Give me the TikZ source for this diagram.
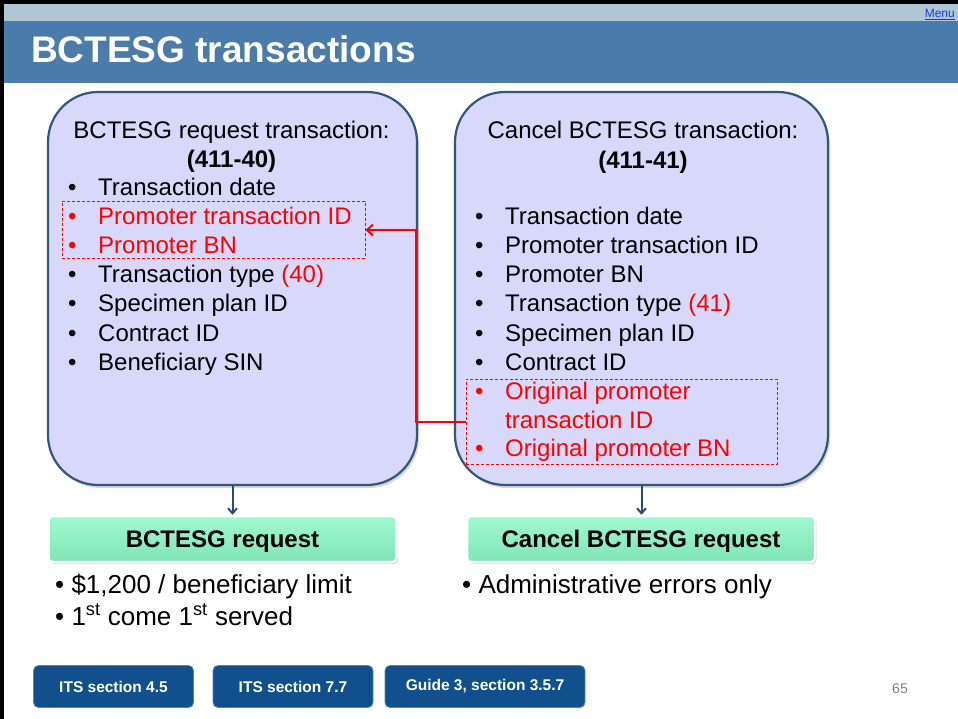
\documentclass[tikz,border=0pt]{standalone}
\usepackage{fontspec}
\setmainfont{Liberation Sans}
\usetikzlibrary{arrows.meta,shadows}
\definecolor{titleblue}{RGB}{74,123,170}
\definecolor{lightband}{RGB}{176,198,212}
\definecolor{lav}{RGB}{216,216,250}
\definecolor{boxedge}{RGB}{52,86,120}
\definecolor{mintlight}{RGB}{160,248,208}
\definecolor{mintdark}{RGB}{128,230,182}
\definecolor{btnblue}{RGB}{17,80,140}
\definecolor{arrowblue}{RGB}{40,75,115}
\definecolor{hred}{RGB}{255,0,0}
\definecolor{linkblue}{RGB}{20,60,220}
\newcommand\mybul[1]{\makebox[30pt][l]{•}#1}
\tikzset{
  bigbox/.style={draw=boxedge, line width=2.2pt, fill=lav, rounded corners=50pt,
    drop shadow={opacity=0.3, shadow xshift=2pt, shadow yshift=-3pt}},
  reddash/.style={draw=hred, dash pattern=on 3pt off 2pt, line width=1pt, inner sep=0pt},
  redarrow/.style={draw=hred, line width=2pt, -{Straight Barb[length=6pt,width=11pt]}},
  downarrow/.style={draw=arrowblue, line width=2pt, -{Straight Barb[length=5pt,width=9pt]}},
  ttl/.style={anchor=base, inner sep=0pt, font=\fontsize{24}{29}\selectfont},
  ttlb/.style={anchor=base, inner sep=0pt, font=\fontsize{24}{29}\selectfont\bfseries},
  body/.style={anchor=base west, inner sep=0pt, font=\fontsize{24}{29}\selectfont},
  greenbox/.style={draw=white, line width=2.5pt, top color=mintlight, bottom color=mintdark,
    rounded corners=4pt, font=\fontsize{24}{28}\selectfont\bfseries, text height=17pt, text depth=1pt,
    drop shadow={opacity=0.3, shadow xshift=1.5pt, shadow yshift=-2pt}},
  note/.style={anchor=base west, inner sep=0pt, font=\fontsize{26}{30}\selectfont},
  btn/.style={fill=btnblue, draw=btnblue!70!white, line width=0.8pt, rounded corners=5pt, text=white,
    font=\fontsize{15.5}{18}\selectfont\bfseries, minimum height=42pt, inner sep=0pt}
}
\begin{document}
\begin{tikzpicture}[x=1pt,y=-1pt]
\useasboundingbox (0,0) rectangle (958,719);
\fill[white] (0,0) rectangle (958,719);
\fill[lightband] (0,0) rectangle (958,21);
\fill[titleblue] (0,21) rectangle (958,83);
\fill[black] (0,0) rectangle (958,4);
\fill[black] (0,0) rectangle (4,719);
\node[anchor=base west, inner sep=0pt, text=white, font=\fontsize{37}{40}\selectfont\bfseries] (title) at (31,63) {BCTESG transactions};
\node[anchor=base east, inner sep=0pt, text=linkblue, font=\fontsize{12}{14}\selectfont] (menu) at (955,18) {\underline{Menu}};

% big boxes
\node[bigbox, minimum width=369pt, minimum height=393pt] (box1) at (232.5,288.5) {};
\node[bigbox, minimum width=373pt, minimum height=393pt] (box2) at (641.5,288.5) {};

% dashed highlight boxes
\node[reddash, minimum width=303pt, minimum height=57pt] (d1) at (213.5,230) {};
\node[reddash, minimum width=311pt, minimum height=85pt] (d2) at (621.5,421.5) {};
\draw[redarrow] (d2.west) -- ++(-50,0) |- (d1.east);

% left box text
\node[ttl] (lt) at (231.5,139) {BCTESG request transaction:};
\node[ttlb] (ltb) at (231.5,168) {(411-40)};
\node[body] (l1) at (68,196) {\mybul{Transaction date}};
\node[body, text=hred] (l2) at (68,225) {\mybul{Promoter transaction ID}};
\node[body, text=hred] (l3) at (68,254) {\mybul{Promoter BN}};
\node[body] (l4) at (68,283) {\mybul{Transaction type \textcolor{hred}{(40)}}};
\node[body] (l5) at (68,312) {\mybul{Specimen plan ID}};
\node[body] (l6) at (68,341) {\mybul{Contract ID}};
\node[body] (l7) at (68,370) {\mybul{Beneficiary SIN}};

% right box text
\node[ttl] (rt) at (643,139) {Cancel BCTESG transaction:};
\node[ttlb] (rtb) at (643,169) {(411-41)};
\node[body] (r1) at (475,225) {\mybul{Transaction date}};
\node[body] (r2) at (475,254) {\mybul{Promoter transaction ID}};
\node[body] (r3) at (475,283) {\mybul{Promoter BN}};
\node[body] (r4) at (475,312) {\mybul{Transaction type \textcolor{hred}{(41)}}};
\node[body] (r5) at (475,341) {\mybul{Specimen plan ID}};
\node[body] (r6) at (475,370) {\mybul{Contract ID}};
\node[body, text=hred] (r7) at (475,399) {\mybul{Original promoter}};
\node[body, text=hred] (r8) at (505,428) {transaction ID};
\node[body, text=hred] (r9) at (475,456) {\mybul{Original promoter BN}};

% green result boxes
\node[greenbox, minimum width=348pt, minimum height=46pt] (g1) at (222.5,539) {BCTESG request};
\node[greenbox, minimum width=348pt, minimum height=46pt] (g2) at (641,539) {Cancel BCTESG request};
\draw[downarrow] (box1.south) -- (box1.south |- g1.north);
\draw[downarrow] (box2.south) -- (box2.south |- g2.north);

% notes
\node[note] (n1) at (55,593) {• \$1,200 / beneficiary limit};
\node[note] (n2) at (55,625) {• 1\textsuperscript{st} come 1\textsuperscript{st} served};
\node[note] (n3) at (462,593) {• Administrative errors only};

% buttons
\node[btn, minimum width=160pt] (b1) at (113.5,686.5) {ITS section 4.5};
\node[btn, minimum width=160pt] (b2) at (293,686.5) {ITS section 7.7};
\node[btn, minimum width=200pt] (b3) at (485,686.5) {Guide 3, section 3.5.7};
\node[text=gray, inner sep=0pt, font=\fontsize{14}{16}\selectfont] (pg) at (900,689) {65};
\end{tikzpicture}
\end{document}
